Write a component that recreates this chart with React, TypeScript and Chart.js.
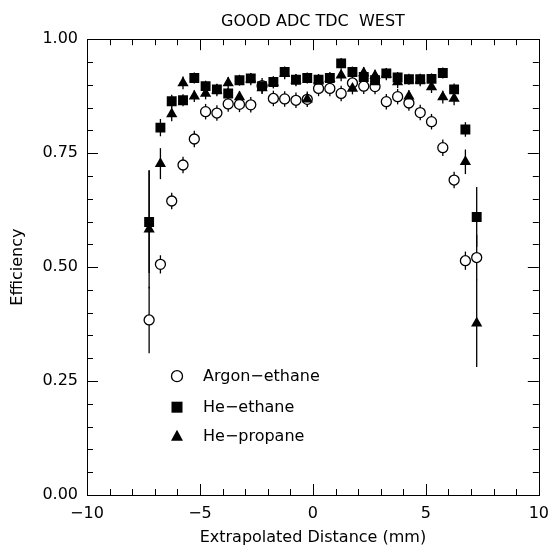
import React, { useEffect, useRef } from "react";
import { Chart, registerables } from "chart.js";

Chart.register(...registerables);

const distances = [
  -7.25, -6.75, -6.25, -5.75, -5.25, -4.75, -4.25, -3.75, -3.25, -2.75,
  -2.25, -1.75, -1.25, -0.75, -0.25, 0.25, 0.75, 1.25, 1.75, 2.25,
  2.75, 3.25, 3.75, 4.25, 4.75, 5.25, 5.75, 6.25, 6.75, 7.25,
];

const argonEthane = [
  0.384, 0.506, 0.645, 0.724, 0.781, 0.841, 0.838, 0.858, 0.857, 0.856,
  0.898, 0.870, 0.869, 0.866, 0.868, 0.892, 0.892, 0.881, 0.904, 0.897,
  0.896, 0.863, 0.874, 0.860, 0.839, 0.819, 0.762, 0.691, 0.514, 0.521,
];
const argonErr = [
  0.073, 0.02, 0.018, 0.018, 0.018, 0.017, 0.017, 0.017, 0.017, 0.017,
  0.017, 0.017, 0.017, 0.017, 0.017, 0.017, 0.017, 0.017, 0.017, 0.017,
  0.017, 0.017, 0.017, 0.017, 0.017, 0.017, 0.018, 0.018, 0.02, 0.05,
];

const heEthane = [
  0.599, 0.806, 0.864, 0.866, 0.915, 0.897, 0.890, 0.881, 0.910, 0.914,
  0.897, 0.906, 0.928, 0.911, 0.915, 0.911, 0.915, 0.947, 0.928, 0.917,
  0.910, 0.925, 0.916, 0.912, 0.912, 0.913, 0.926, 0.890, 0.802, 0.610,
];
const heEthaneErr = [
  0.112, 0.019, 0.014, 0.013, 0.012, 0.012, 0.012, 0.012, 0.012, 0.012,
  0.012, 0.012, 0.012, 0.012, 0.012, 0.012, 0.012, 0.012, 0.012, 0.012,
  0.012, 0.012, 0.012, 0.012, 0.012, 0.012, 0.012, 0.013, 0.016, 0.066,
];

const hePropane = [
  0.583, 0.727, 0.836, 0.904, 0.875, 0.881, 0.888, 0.904, 0.873, 0.912,
  0.893, 0.905, 0.925, 0.910, 0.868, 0.910, 0.914, 0.921, 0.892, 0.926,
  0.920, 0.923, 0.906, 0.875, 0.910, 0.895, 0.873, 0.870, 0.731, 0.377,
];
const hePropaneErr = [
  0.13, 0.034, 0.016, 0.014, 0.013, 0.013, 0.013, 0.013, 0.013, 0.013,
  0.013, 0.013, 0.013, 0.013, 0.013, 0.013, 0.013, 0.013, 0.013, 0.013,
  0.013, 0.013, 0.013, 0.013, 0.013, 0.013, 0.014, 0.015, 0.027, 0.096,
];

const seriesNames = ["Argon\u2212ethane", "He\u2212ethane", "He\u2212propane"];
const xTickValues = [-10, -5, 0, 5, 10];
const yTickValues = [0, 0.25, 0.5, 0.75, 1.0];

const FONT = "'DejaVu Sans', sans-serif";

const errorBarPlugin = {
  id: "errorBars",
  beforeDatasetsDraw(chart: any) {
    const { ctx, scales } = chart;
    const y = scales.y;
    ctx.save();
    ctx.strokeStyle = "#000";
    ctx.lineWidth = 1.3;
    chart.data.datasets.forEach((ds: any, di: number) => {
      const meta = chart.getDatasetMeta(di);
      const errs: number[] = ds.errors || [];
      meta.data.forEach((pt: any, i: number) => {
        const v = ds.data[i].y;
        const e = errs[i] || 0;
        ctx.beginPath();
        ctx.moveTo(pt.x, y.getPixelForValue(v + e));
        ctx.lineTo(pt.x, y.getPixelForValue(v - e));
        ctx.stroke();
      });
    });
    ctx.restore();
  },
};

const framePlugin = {
  id: "frameTicks",
  afterDraw(chart: any) {
    const { ctx, chartArea: a, scales } = chart;
    const xs = scales.x;
    const ys = scales.y;
    ctx.save();
    ctx.strokeStyle = "#000";
    ctx.lineWidth = 1;
    ctx.strokeRect(Math.round(a.left) + 0.5, Math.round(a.top) + 0.5, Math.round(a.right - a.left), Math.round(a.bottom - a.top));
    ctx.beginPath();
    for (let v = -10; v <= 10; v += 1) {
      const px = Math.round(xs.getPixelForValue(v)) + 0.5;
      const len = v % 5 === 0 ? 11 : 6;
      ctx.moveTo(px, a.bottom);
      ctx.lineTo(px, a.bottom - len);
      ctx.moveTo(px, a.top);
      ctx.lineTo(px, a.top + len);
    }
    for (let k = 0; k <= 20; k++) {
      const v = k * 0.05;
      const py = Math.round(ys.getPixelForValue(v)) + 0.5;
      const len = k % 5 === 0 ? 11 : 6;
      ctx.moveTo(a.left, py);
      ctx.lineTo(a.left + len, py);
      ctx.moveTo(a.right, py);
      ctx.lineTo(a.right - len, py);
    }
    ctx.stroke();
    ctx.restore();
  },
};

const legendPlugin = {
  id: "innerLegend",
  afterDatasetsDraw(chart: any) {
    const { ctx, chartArea: a } = chart;
    const mx = a.left + 90;
    const tx = a.left + 116;
    const rows = [a.top + 337, a.top + 368, a.top + 397];
    ctx.save();
    ctx.fillStyle = "#000";
    ctx.strokeStyle = "#000";
    ctx.lineWidth = 1.3;
    ctx.beginPath();
    ctx.arc(mx, rows[0], 5.5, 0, Math.PI * 2);
    ctx.fillStyle = "#fff";
    ctx.fill();
    ctx.stroke();
    ctx.fillStyle = "#000";
    ctx.fillRect(mx - 5.5, rows[1] - 5.5, 11, 11);
    ctx.beginPath();
    ctx.moveTo(mx, rows[2] - 6.5);
    ctx.lineTo(mx + 6, rows[2] + 4.5);
    ctx.lineTo(mx - 6, rows[2] + 4.5);
    ctx.closePath();
    ctx.fill();
    ctx.font = `16px ${FONT}`;
    ctx.textBaseline = "middle";
    ctx.textAlign = "left";
    seriesNames.forEach((n, i) => ctx.fillText(n, tx, rows[i] + 1));
    ctx.restore();
  },
};

function toPoints(vals: number[]) {
  return vals.map((v, i) => ({ x: distances[i], y: v }));
}

export default function App() {
  const ref = useRef<HTMLCanvasElement | null>(null);
  useEffect(() => {
    if (!ref.current) return;
    const chart = new Chart(ref.current, {
      type: "scatter",
      data: {
        datasets: [
          {
            label: seriesNames[1],
            data: toPoints(heEthane),
            errors: heEthaneErr,
            pointStyle: "rect",
            pointRadius: 7,
            pointBackgroundColor: "#000",
            pointBorderColor: "#000",
            pointBorderWidth: 0,
            order: 1,
          } as any,
          {
            label: seriesNames[2],
            data: toPoints(hePropane),
            errors: hePropaneErr,
            pointStyle: "triangle",
            pointRadius: 6.5,
            pointBackgroundColor: "#000",
            pointBorderColor: "#000",
            pointBorderWidth: 0,
            order: 2,
          } as any,
          {
            label: seriesNames[0],
            data: toPoints(argonEthane),
            errors: argonErr,
            pointStyle: "circle",
            pointRadius: 5,
            pointBackgroundColor: "#fff",
            pointBorderColor: "#000",
            pointBorderWidth: 1.3,
            order: 3,
          } as any,
        ],
      },
      options: {
        animation: false,
        responsive: false,
        devicePixelRatio: 1,
        layout: { padding: { top: 0, right: 15, left: 0, bottom: 0 } },
        plugins: {
          legend: { display: false },
          tooltip: { enabled: false },
          title: {
            display: true,
            text: "GOOD ADC TDC  WEST",
            fullSize: false,
            color: "#000",
            font: { family: FONT, size: 16, weight: "normal" },
            padding: { top: 12, bottom: 8 },
          },
        },
        scales: {
          x: {
            type: "linear",
            min: -10,
            max: 10,
            afterFit: (s: any) => {
              s.height = 53;
            },
            afterBuildTicks: (s: any) => {
              s.ticks = xTickValues.map((v) => ({ value: v }));
            },
            grid: { display: false, drawTicks: false },
            border: { display: false },
            ticks: {
              color: "#000",
              padding: 9,
              maxRotation: 0,
              font: { family: FONT, size: 16 },
              callback: (v: any) => (v < 0 ? "\u2212" + Math.abs(v) : String(v)),
            },
            title: {
              display: true,
              text: "Extrapolated Distance (mm)",
              color: "#000",
              font: { family: FONT, size: 16 },
              padding: { top: 0, bottom: 1 },
            },
          },
          y: {
            type: "linear",
            min: 0,
            max: 1,
            afterFit: (s: any) => {
              s.width = 87;
            },
            afterBuildTicks: (s: any) => {
              s.ticks = yTickValues.map((v) => ({ value: v }));
            },
            grid: { display: false, drawTicks: false },
            border: { display: false },
            ticks: {
              color: "#000",
              padding: 9,
              font: { family: FONT, size: 16 },
              callback: (v: any) => Number(v).toFixed(2),
            },
            title: {
              display: true,
              text: "Efficiency",
              color: "#000",
              font: { family: FONT, size: 16 },
              padding: { top: 8, bottom: 0 },
            },
          },
        },
      } as any,
      plugins: [errorBarPlugin, framePlugin, legendPlugin],
    });
    return () => chart.destroy();
  }, []);
  return (
    <div style={{ position: "absolute", left: 0, top: 0, width: 558, height: 548, background: "#fff" }}>
      <canvas ref={ref} width={558} height={548} />
    </div>
  );
}
